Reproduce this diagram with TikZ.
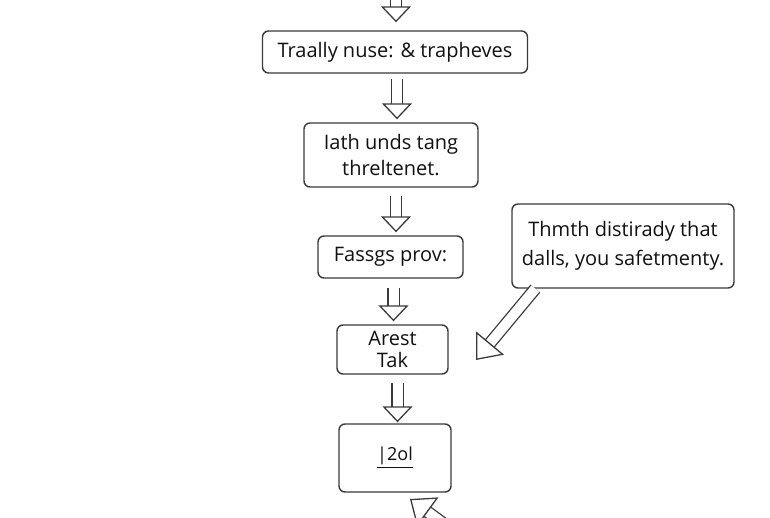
\documentclass[tikz,border=0pt]{standalone}
\usepackage{fontspec}
\setmainfont{Open Sans}
\usetikzlibrary{arrows.meta, positioning}
\definecolor{ink}{HTML}{111111}
\definecolor{rulecolor}{HTML}{3A3A3A}
\tikzset{
  box/.style    ={draw=rulecolor, line width=0.7pt, rounded corners=3pt, fill=white,
                  align=center, inner sep=2pt, text=ink,
                  font=\fontsize{10}{13}\selectfont},
  hollow/.style ={draw=rulecolor, line width=0.65pt, double=white, double distance=5pt,
                  -{Triangle[open, length=8pt, width=15pt]}},
  hollowbig/.style ={hollow, -{Triangle[open, length=11pt, width=18pt]}}
}

\begin{document}
\begin{tikzpicture}[x=0.5pt, y=-0.5pt]
  \useasboundingbox (0,0) rectangle (770,518);
  % flow boxes
  \node[box, minimum width=132.5pt, minimum height=21pt] (ltrail) at (395,52) {Traally nuse: \& trapheves};
  \node[box, minimum width=87pt, minimum height=32pt] (lpath) at (391,155) {Iath unds tang\\threltenet.};
  \node[box, minimum width=72.5pt, minimum height=21pt] (lpass) at (390.5,257) {Fassgs prov:};
  \node[box, minimum width=55.5pt, minimum height=24.5pt, font=\fontsize{10}{11}\selectfont] (lrest) at (392.5,349.5) {Arest\\Tak};
  \node[box, minimum width=56pt, minimum height=34pt] (lend) at (395,458) {\small\underline{|2ol}};
  % side note
  \node[box, minimum width=111pt, minimum height=42pt, font=\fontsize{10}{14.5}\selectfont] (note) at (623,246) {Thmth distiradу that\\dalls, you safetmenty.};
  \coordinate (top) at (396,-12);
  \coordinate (noteTip) at (476,360);
  \coordinate (lowTail) at (455,532);
  \coordinate (lowTip) at (410,499);
  % arrows
  \draw[hollow, shorten >=4pt] (top) -- (top |- ltrail.north);
  \draw[hollow, shorten <=2.5pt, shorten >=1.5pt] ([xshift=1pt]ltrail.south) -- ([xshift=1pt]ltrail.south |- lpath.north);
  \draw[hollow, shorten <=4pt, shorten >=1.5pt] ([xshift=2.5pt]lpath.south) -- ([xshift=2.5pt]lpath.south |- lpass.north);
  \draw[hollow, shorten <=4.5pt, shorten >=1.5pt] ([xshift=1.5pt]lpass.south) -- ([xshift=1.5pt]lpass.south |- lrest.north);
  \draw[hollow, shorten <=4pt, shorten >=0.5pt] ([xshift=2.5pt]lrest.south) -- ([xshift=2.5pt]lrest.south |- lend.north);
  \draw[hollowbig] ([xshift=12pt]note.south west) -- (noteTip);
  \draw[hollowbig] (lowTail) -- (lowTip);
\end{tikzpicture}
\end{document}
